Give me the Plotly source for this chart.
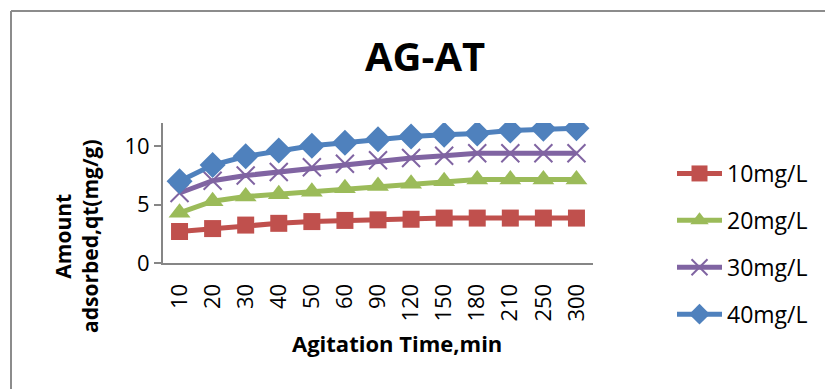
import plotly.graph_objects as go

times = ["10", "20", "30", "40", "50", "60", "90", "120", "150", "180", "210", "250", "300"]
c10 = [2.7, 2.95, 3.25, 3.4, 3.55, 3.65, 3.7, 3.75, 3.85, 3.85, 3.85, 3.85, 3.85]
c20 = [4.3, 5.3, 5.7, 5.9, 6.1, 6.4, 6.6, 6.8, 7.0, 7.15, 7.15, 7.15, 7.15]
c30 = [6.0, 7.05, 7.5, 7.8, 8.2, 8.5, 8.8, 9.0, 9.2, 9.4, 9.4, 9.4, 9.4]
c40 = [7.0, 8.4, 9.15, 9.65, 10.05, 10.3, 10.6, 10.85, 11.0, 11.1, 11.35, 11.5, 11.55]
names = ["10mg/L", "20mg/L", "30mg/L", "40mg/L"]

FONT = "Open Sans"
series = [
    (c10, "#C0504D", dict(symbol="square", size=17)),
    (c20, "#9BBB59", dict(symbol="triangle-up", size=19)),
    (c30, "#8064A2", dict(symbol="x-thin", size=18, line=dict(width=2, color="#8064A2"))),
    (c40, "#4F81BD", dict(symbol="diamond", size=20)),
]

fig = go.Figure()
for (vals, col, mk), nm in zip(series, names):
    fig.add_trace(go.Scatter(
        x=times, y=vals, name=nm, mode="lines+markers", legendgroup=nm,
        line=dict(color=col, width=5), marker=dict(color=col, **mk),
    ))

L, R, T, B = 163, 593, 123, 263
W, H = 825, 389

def px(x):
    return (x - L) / (R - L)

def py(y):
    return (B - y) / (B - T)

fig.update_layout(
    width=W, height=H,
    margin=dict(l=L, r=W - R, t=T, b=H - B),
    paper_bgcolor="white", plot_bgcolor="white",
    font=dict(family=FONT, size=22, color="black"),
    showlegend=True,
    legend=dict(xref="container", yref="container", x=672 / W, y=1 - 152 / H,
                xanchor="left", yanchor="top", itemwidth=45,
                font=dict(size=23), tracegroupgap=14, bgcolor="rgba(0,0,0,0)",
                maxheight=1),
    xaxis=dict(type="category", range=[-0.5, 12.5], showline=True, linecolor="#868686",
               linewidth=2, showgrid=False, ticks="", tickangle=-90, ticklabelstandoff=10,
               tickfont=dict(size=22)),
    yaxis=dict(range=[0, 12], tickvals=[0, 5, 10], showline=True, linecolor="#868686",
               linewidth=2, showgrid=False, ticks="outside", ticklen=7, tickcolor="#868686",
               tickwidth=2, tickfont=dict(size=22), zeroline=False),
    shapes=[
        dict(type="line", xref="paper", yref="paper", x0=px(11), x1=px(11), y0=py(11), y1=py(400),
             line=dict(color="#8c8c8c", width=2)),
        dict(type="line", xref="paper", yref="paper", x0=px(11), x1=px(830), y0=py(11), y1=py(11),
             line=dict(color="#8c8c8c", width=2)),
    ],
    annotations=[
        dict(text="<b>AG-AT</b>", xref="paper", yref="paper", x=px(425), y=py(55),
             showarrow=False, font=dict(size=40, family=FONT), xanchor="center", yanchor="middle"),
        dict(text="<b>Agitation Time,min</b>", xref="paper", yref="paper", x=px(397), y=py(343),
             showarrow=False, font=dict(size=22, family=FONT), xanchor="center", yanchor="middle"),
        dict(text="<b>Amount<br>adsorbed,qt(mg/g)</b>", xref="paper", yref="paper", x=px(76), y=py(236),
             showarrow=False, textangle=-90, font=dict(size=21, family=FONT),
             xanchor="center", yanchor="middle"),
    ],
)

fig.write_html("out.html")
